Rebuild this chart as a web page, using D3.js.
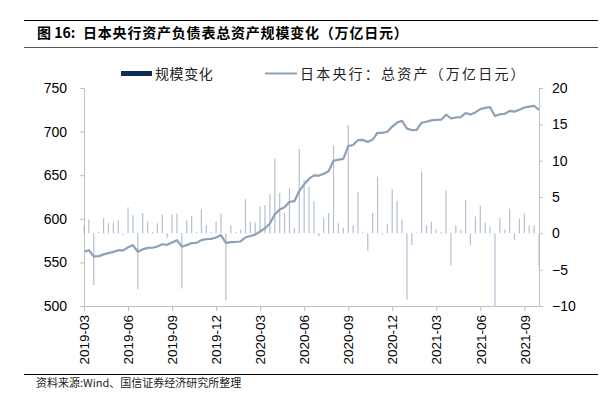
<!DOCTYPE html>
<html lang="zh">

<head>
    <meta charset="UTF-8">
    <title>日本央行资产负债表总资产规模变化</title>
    <script src="https://d3js.org/d3.v7.min.js"></script>
    <style>
        body { margin: 0; background: #fff; }
        svg { display: block; font-family: "Liberation Sans", Arial, sans-serif; }
    </style>
</head>

<body>
    <svg width="615" height="395"></svg>

    <script>
        // 月份（每月三旬：10日、20日、月末）
        const months = ["2019-03", "2019-04", "2019-05", "2019-06", "2019-07", "2019-08", "2019-09", "2019-10",
            "2019-11", "2019-12", "2020-01", "2020-02", "2020-03", "2020-04", "2020-05", "2020-06", "2020-07",
            "2020-08", "2020-09", "2020-10", "2020-11", "2020-12", "2021-01", "2021-02", "2021-03", "2021-04",
            "2021-05", "2021-06", "2021-07", "2021-08", "2021-09", "2021-10"];
        const categories = months.flatMap(m => [m + "-10", m + "-20", m + "-30"]).slice(0, 94);

        const tickLabels = ["2019-03", "2019-06", "2019-09", "2019-12", "2020-03", "2020-06",
            "2020-09", "2020-12", "2021-03", "2021-06", "2021-09"];

        // 日本央行：总资产（万亿日元），左轴
        const totalAssets = [
            562.3, 564.0, 556.8, 557.2, 559.2, 560.6, 562.1, 564.0, 563.8, 567.3,
            569.8, 562.2, 565.0, 566.6, 566.8, 568.2, 570.8, 570.2, 572.8, 575.5,
            568.0, 569.8, 572.2, 572.4, 575.6, 576.7, 577.0, 578.5, 581.3, 572.3,
            573.3, 573.5, 574.0, 578.6, 580.2, 581.8, 585.4, 589.2, 594.7, 605.1,
            610.6, 613.3, 619.5, 620.2, 631.8, 639.5, 646.0, 649.9, 649.5, 651.6,
            654.5, 666.5, 667.9, 668.7, 683.4, 684.6, 690.3, 690.5, 688.1, 690.9,
            698.7, 698.6, 699.8, 705.8, 710.4, 712.3, 703.4, 701.8, 701.9, 710.2,
            711.3, 712.9, 713.4, 713.7, 719.4, 715.1, 716.2, 716.7, 721.2, 719.7,
            722.0, 725.8, 727.2, 728.0, 717.8, 719.9, 720.4, 723.7, 722.9, 725.0,
            727.6, 728.7, 729.6, 724.8
        ];

        // 规模变化，右轴
        const sizeChange = [
            1.0, 1.9, -7.1, 0.2, 2.1, 1.4, 1.5, 1.8, -0.2, 3.6,
            2.5, -7.7, 2.8, 1.6, 0.2, 1.4, 2.6, -0.6, 2.6, 2.7,
            -7.6, 1.8, 2.4, 0.2, 3.3, 1.1, 0.2, 1.6, 2.7, -9.2,
            1.1, 0.2, 0.5, 4.7, 1.6, 1.5, 3.7, 3.9, 5.4, 10.3,
            5.5, 2.8, 6.2, 0.7, 11.6, 7.3, 6.4, 4.4, -0.4, 2.1,
            2.8, 12.1, 1.4, 0.8, 14.9, 1.1, 5.7, 0.2, -2.4, 2.8,
            7.8, -0.2, 1.3, 6.1, 4.5, 1.9, -9.1, -1.6, 0.1, 8.5,
            1.1, 1.6, 0.5, 0.2, 5.9, -4.4, 1.1, 0.5, 4.6, -1.6,
            2.3, 3.8, 1.5, 0.9, -10.0, 2.1, 0.5, 3.4, -0.9, 2.0,
            2.7, 1.1, 1.1, -4.5
        ];

        const leftTicks = [500, 550, 600, 650, 700, 750];
        const rightTicks = [-10, -5, 0, 5, 10, 15, 20];

        const svg = d3.select("svg");
        const plotLeft = 84, plotRight = 539, plotTop = 88, plotBottom = 306;
        const axisColor = "#bfbfbf";
        const cjk = "'Noto Sans CJK SC', sans-serif";

        const x = d3.scalePoint().domain(categories).range([plotLeft, plotRight]);
        const yL = d3.scaleLinear().domain([500, 750]).range([plotBottom, plotTop]);
        const yR = d3.scaleLinear().domain([-10, 20]).range([plotBottom, plotTop]);

        // 标题和分隔线
        svg.append("line").attr("x1", 24).attr("x2", 598).attr("y1", 20.5).attr("y2", 20.5)
            .attr("stroke", "#000").attr("stroke-width", 1);
        const title = svg.append("text")
            .attr("y", 38)
            .attr("font-family", cjk)
            .attr("font-size", "14px").attr("font-weight", "bold");
        title.append("tspan").attr("x", 37).text("图 16:");
        title.append("tspan").attr("x", 83).attr("letter-spacing", "0.8px")
            .text("日本央行资产负债表总资产规模变化（万亿日元）");
        svg.append("line").attr("x1", 24).attr("x2", 598).attr("y1", 47.5).attr("y2", 47.5)
            .attr("stroke", "#555").attr("stroke-width", 1);

        // 图例
        const legend = svg.append("g").attr("font-family", cjk)
            .attr("font-size", "14px").attr("fill", "#222");
        legend.append("rect").attr("x", 121).attr("y", 71).attr("width", 31).attr("height", 5).attr("fill", "#0f2c57");
        legend.append("text").attr("x", 155).attr("y", 78.5).attr("letter-spacing", "0.6px").text("规模变化");
        legend.append("line").attr("x1", 265).attr("x2", 297).attr("y1", 73.5).attr("y2", 73.5)
            .attr("stroke", "#8fa3b7").attr("stroke-width", 2);
        legend.append("text").attr("x", 300).attr("y", 78.5).attr("letter-spacing", "2.2px")
            .text("日本央行：总资产（万亿日元）");

        // 柱子（细线）
        svg.append("g")
            .selectAll("line")
            .data(sizeChange)
            .join("line")
            .attr("x1", (d, i) => x(categories[i]))
            .attr("x2", (d, i) => x(categories[i]))
            .attr("y1", yR(0))
            .attr("y2", d => yR(d))
            .attr("stroke", "#b3c0d2")
            .attr("stroke-width", 1.2);

        // 总资产折线
        const line = d3.line()
            .x((d, i) => x(categories[i]))
            .y(d => yL(d));

        svg.append("path")
            .datum(totalAssets)
            .attr("d", line)
            .attr("fill", "none")
            .attr("stroke", "#8da2b8")
            .attr("stroke-width", 2.2)
            .attr("stroke-linejoin", "round");

        function styleAxis(g) {
            g.select(".domain").attr("stroke", axisColor);
            g.selectAll(".tick line").attr("stroke", axisColor);
            g.selectAll(".tick text").attr("fill", "#000").attr("font-size", "14px")
                .attr("font-family", "'Liberation Sans', Arial, sans-serif");
        }

        // 左轴
        svg.append("g")
            .attr("transform", `translate(${plotLeft},0)`)
            .call(d3.axisLeft(yL).tickValues(leftTicks).tickSize(4).tickPadding(13).tickSizeOuter(0))
            .call(styleAxis);

        // 右轴
        svg.append("g")
            .attr("transform", `translate(${plotRight},0)`)
            .call(d3.axisRight(yR).tickValues(rightTicks).tickSize(4).tickPadding(9).tickSizeOuter(0))
            .call(styleAxis);

        // 横轴：每季度一个刻度
        const tickCats = categories.filter((c, i) => i % 9 === 0);
        const xAxis = svg.append("g")
            .attr("transform", `translate(0,${plotBottom})`)
            .call(d3.axisBottom(x).tickValues(tickCats).tickSize(5).tickSizeOuter(0)
                .tickFormat((c, i) => tickLabels[i]))
            .call(styleAxis);
        xAxis.selectAll(".tick text")
            .attr("font-size", "13.5px")
            .attr("text-anchor", "end")
            .attr("transform", "translate(0,9) rotate(-90)")
            .attr("x", 0).attr("y", 0).attr("dy", "0.35em");

        // 资料来源
        svg.append("line").attr("x1", 24).attr("x2", 598).attr("y1", 374.5).attr("y2", 374.5)
            .attr("stroke", "#000").attr("stroke-width", 1);
        svg.append("text")
            .attr("x", 36).attr("y", 387)
            .attr("font-family", cjk)
            .attr("font-size", "11px").attr("fill", "#222")
            .text("资料来源:Wind、国信证券经济研究所整理");
    </script>
</body>

</html>
